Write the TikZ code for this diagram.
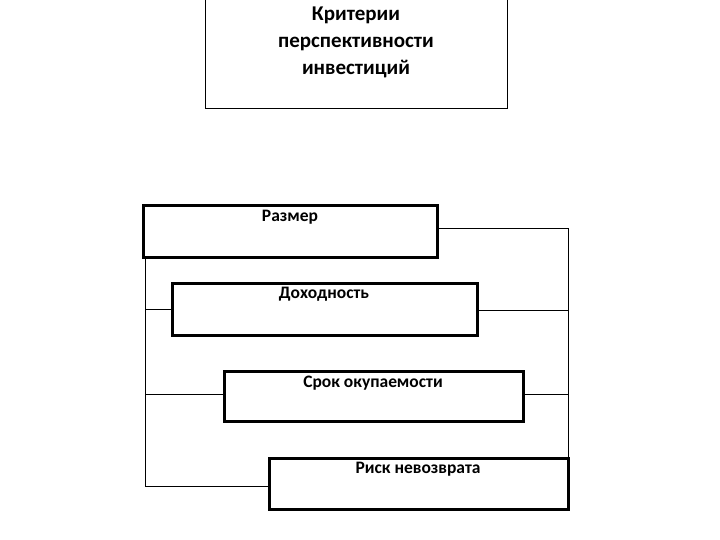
\documentclass[tikz,border=0pt]{standalone}
\usepackage{fontspec}
\setmainfont{Carlito}
\begin{document}
\begin{tikzpicture}[x=1pt,y=-1pt,
  bx/.style={draw, line width=3pt},
  tx/.style={anchor=north, font=\bfseries\fontsize{17.5}{21}\selectfont},
  ln/.style={line width=1pt}]
\useasboundingbox (0,0) rectangle (720,540);
\draw[ln] (205,0) rectangle (507,109);
\node[anchor=north, align=center, font=\bfseries\fontsize{21}{27}\selectfont] (top) at (356,3) {Критерии\\перспективности\\инвестиций};
\draw[bx] (143,206) rectangle (437,257);
\draw[bx] (172,283) rectangle (477,335);
\draw[bx] (224,371) rectangle (523,421);
\draw[bx] (269,458) rectangle (568,509);
\node[tx] (a) at (290,207) {Размер};
\node[tx] (b) at (324,284) {Доходность};
\node[tx] (c) at (373,372) {Срок окупаемости};
\node[tx] (d) at (418,459) {Риск невозврата};
\coordinate (L1) at (145,258.5);
\draw[ln] (L1) -- (145,486) -- (267.5,486);
\draw[ln] (145,309) -- (170.5,309);
\draw[ln] (145,394) -- (222.5,394);
\draw[ln] (438.5,229) -- (568,229) -- (568,456.5);
\draw[ln] (478.5,310) -- (568,310);
\draw[ln] (524.5,394) -- (568,394);
\end{tikzpicture}
\end{document}
